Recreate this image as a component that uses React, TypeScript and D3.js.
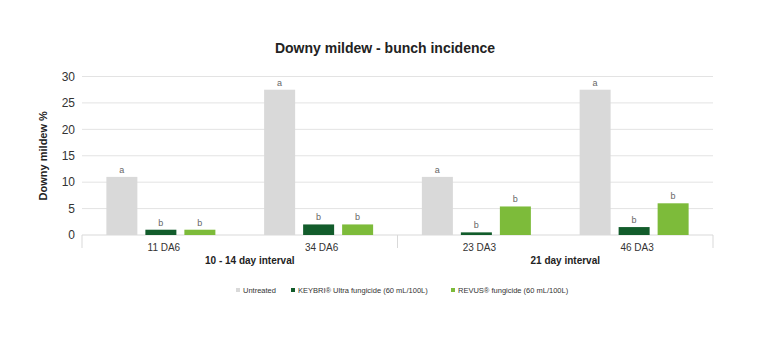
import React from "react";
import * as d3 from "d3";

const categories = ["11 DA6", "34 DA6", "23 DA3", "46 DA3"];
const groups = ["10 - 14 day interval", "21 day interval"];
const groupOf = [0, 0, 1, 1];
const seriesNames = [
  "Untreated",
  "KEYBRI\u00AE Ultra fungicide (60 mL/100L)",
  "REVUS\u00AE fungicide (60 mL/100L)",
];
const untreated = [11, 27.5, 11, 27.5];
const keybri = [1, 2, 0.5, 1.5];
const revus = [1, 2, 5.4, 6.0];
const untreatedLetters = ["a", "a", "a", "a"];
const keybriLetters = ["b", "b", "b", "b"];
const revusLetters = ["b", "b", "b", "b"];
const yTicks = [0, 5, 10, 15, 20, 25, 30];
const colors = ["#d9d9d9", "#125c2b", "#7dbb3a"];

export default function App() {
  const W = 768, H = 338;
  const left = 82, right = 713, top = 76.5, bottom = 235;
  const x = d3.scaleBand<string>().domain(categories).range([left, right]);
  const y = d3.scaleLinear().domain([0, 30]).range([bottom, top]);
  const series = [untreated, keybri, revus];
  const letters = [untreatedLetters, keybriLetters, revusLetters];
  const barW = 31, gap = 8;
  const font = "Liberation Sans, Arial, sans-serif";

  const groupExtents = groups.map((_, gi) => {
    const cats = categories.filter((_, i) => groupOf[i] === gi);
    const x0 = x(cats[0])!;
    const x1 = x(cats[cats.length - 1])! + x.bandwidth();
    return [x0, x1];
  });

  const legendX = [236, 291, 451];

  return (
    <svg width={W} height={H} style={{ position: "absolute", left: 0, top: 0, background: "#fff" }} fontFamily={font}>
      <rect width={W} height={H} fill="#fff" />
      <text x={385} y={53} textAnchor="middle" fontSize={14} fontWeight="bold" fill="#222">
        Downy mildew - bunch incidence
      </text>
      {yTicks.map((t) => (
        <g key={t}>
          {t > 0 && <line x1={left} x2={right} y1={y(t)} y2={y(t)} stroke="#e3e3e3" strokeWidth={1} />}
          <text x={75} y={y(t)} dy="0.35em" textAnchor="end" fontSize={12} fill="#333">
            {t}
          </text>
        </g>
      ))}
      <text
        transform={`translate(47,${(top + bottom) / 2}) rotate(-90)`}
        textAnchor="middle"
        fontSize={11}
        fontWeight="bold"
        fill="#222"
      >
        Downy mildew %
      </text>
      <line x1={left} x2={right} y1={bottom} y2={bottom} stroke="#d9d9d9" />
      {[left, groupExtents[0][1], right].map((xx, i) => (
        <line key={i} x1={xx} x2={xx} y1={bottom} y2={248} stroke="#d9d9d9" />
      ))}
      {categories.map((c, ci) => {
        const cx = x(c)! + x.bandwidth() / 2;
        const totalW = barW * 3 + gap * 2;
        return (
          <g key={c}>
            {series.map((s, si) => {
              const bx = cx - totalW / 2 + si * (barW + gap);
              return (
                <g key={si}>
                  <rect x={bx} y={y(s[ci])} width={barW} height={bottom - y(s[ci])} fill={colors[si]} />
                  <text x={bx + barW / 2} y={y(s[ci]) - 4} textAnchor="middle" fontSize={9} fill="#666">
                    {letters[si][ci]}
                  </text>
                </g>
              );
            })}
            <text x={cx + 3} y={247} dy="0.35em" textAnchor="middle" fontSize={10} fill="#333">
              {c}
            </text>
          </g>
        );
      })}
      {groups.map((g, gi) => (
        <text
          key={g}
          x={(groupExtents[gi][0] + groupExtents[gi][1]) / 2 + 10}
          y={260}
          dy="0.35em"
          textAnchor="middle"
          fontSize={10}
          fontWeight="bold"
          fill="#222"
        >
          {g}
        </text>
      ))}
      {seriesNames.map((n, i) => (
        <g key={n}>
          <rect x={legendX[i]} y={288} width={4} height={4} fill={colors[i]} />
          <text x={legendX[i] + 7} y={290} dy="0.35em" fontSize={7.5} fill="#333">
            {n}
          </text>
        </g>
      ))}
    </svg>
  );
}
